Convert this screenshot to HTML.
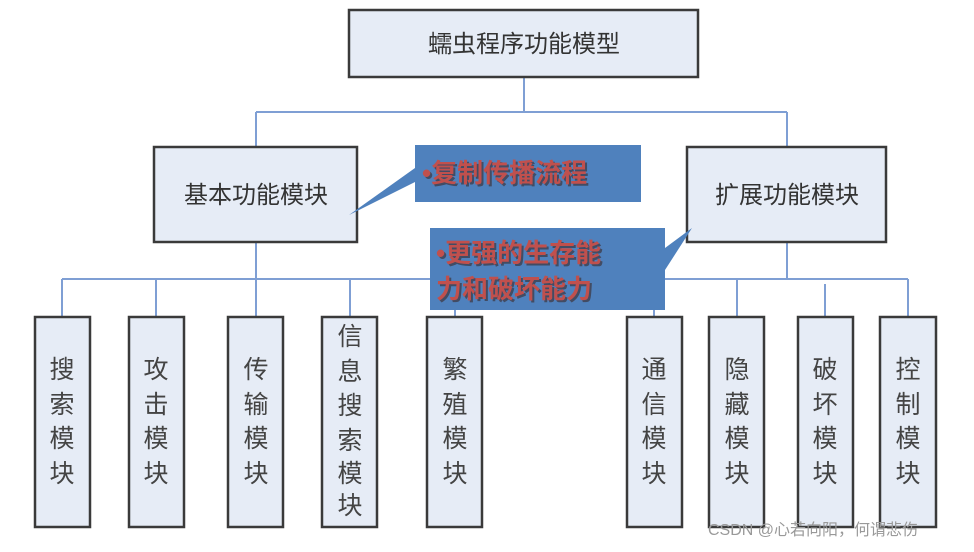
<!DOCTYPE html>
<html><head><meta charset="utf-8"><style>
body{margin:0;background:#fff;}
svg text{font-family:"Liberation Sans","Noto Sans CJK SC",sans-serif;}
</style></head><body>
<svg width="974" height="547" xmlns="http://www.w3.org/2000/svg">
<g stroke="#7f9fd4" stroke-width="2" fill="none">
<path d="M524 77V112M256 112H787M256 112V147M787 112V147"/>
<path d="M256 242V279M787 242V279M62 279H908"/>
<path d="M62 279V317M156 279V317M256 279V317M350 279V317M455 279V317M654 279V317M737 279V317M908 279V317M825 284V320"/>
</g>
<g fill="#e6ecf6" stroke="#3a3a3a" stroke-width="2.5">
<rect x="349" y="10" width="349" height="67"/>
<rect x="154" y="147" width="203" height="95"/>
<rect x="687" y="147" width="199" height="95"/>
<rect x="35" y="317" width="55" height="210"/>
<rect x="129" y="317" width="55" height="210"/>
<rect x="228" y="317" width="55" height="210"/>
<rect x="322" y="317" width="55" height="210"/>
<rect x="427" y="317" width="55" height="210"/>
<rect x="627" y="317" width="55" height="210"/>
<rect x="709" y="317" width="55" height="210"/>
<rect x="798" y="317" width="55" height="210"/>
<rect x="880" y="317" width="56" height="210"/>
</g>
<g fill="#333" font-size="24" text-anchor="middle">
<text x="524" y="52">蠕虫程序功能模型</text>
<text x="256" y="203">基本功能模块</text>
<text x="787" y="203">扩展功能模块</text>
</g>
<g fill="#444" font-size="25" text-anchor="middle">
<text x="62"><tspan x="62" y="378">搜</tspan><tspan x="62" y="413">索</tspan><tspan x="62" y="447">模</tspan><tspan x="62" y="482">块</tspan></text>
<text><tspan x="156" y="378">攻</tspan><tspan x="156" y="413">击</tspan><tspan x="156" y="447">模</tspan><tspan x="156" y="482">块</tspan></text>
<text><tspan x="256" y="378">传</tspan><tspan x="256" y="413">输</tspan><tspan x="256" y="447">模</tspan><tspan x="256" y="482">块</tspan></text>
<text><tspan x="350" y="345">信</tspan><tspan x="350" y="380">息</tspan><tspan x="350" y="414">搜</tspan><tspan x="350" y="449">索</tspan><tspan x="350" y="514">块</tspan><tspan x="350" y="482">模</tspan></text>
<text><tspan x="455" y="378">繁</tspan><tspan x="455" y="413">殖</tspan><tspan x="455" y="447">模</tspan><tspan x="455" y="482">块</tspan></text>
<text><tspan x="654" y="378">通</tspan><tspan x="654" y="413">信</tspan><tspan x="654" y="447">模</tspan><tspan x="654" y="482">块</tspan></text>
<text><tspan x="737" y="378">隐</tspan><tspan x="737" y="413">藏</tspan><tspan x="737" y="447">模</tspan><tspan x="737" y="482">块</tspan></text>
<text><tspan x="825" y="378">破</tspan><tspan x="825" y="413">坏</tspan><tspan x="825" y="447">模</tspan><tspan x="825" y="482">块</tspan></text>
<text><tspan x="908" y="378">控</tspan><tspan x="908" y="413">制</tspan><tspan x="908" y="447">模</tspan><tspan x="908" y="482">块</tspan></text>
</g>
<g fill="#4f81bd">
<path d="M415 145H641V202H415V182L349 215L415 168Z"/>
<path d="M430 228H665V310H430Z"/>
<path d="M665 248L692 228L665 270Z"/>
</g>
<g font-size="26" font-weight="bold">
<text x="422" y="182" fill="#3a2a2a" opacity=".6" transform="translate(2,2)">•复制传播流程</text>
<text x="422" y="182" fill="#c0504d">•复制传播流程</text>
<text x="436" y="262" fill="#3a2a2a" opacity=".6" transform="translate(2,2)">•更强的生存能</text>
<text x="436" y="262" fill="#c0504d">•更强的生存能</text>
<text x="436" y="298" fill="#3a2a2a" opacity=".6" transform="translate(2,2)">力和破坏能力</text>
<text x="436" y="298" fill="#c0504d">力和破坏能力</text>
</g>
<text x="708" y="535" font-size="16" fill="#999">CSDN @心若向阳，何谓悲伤</text>
</svg>
</body></html>
